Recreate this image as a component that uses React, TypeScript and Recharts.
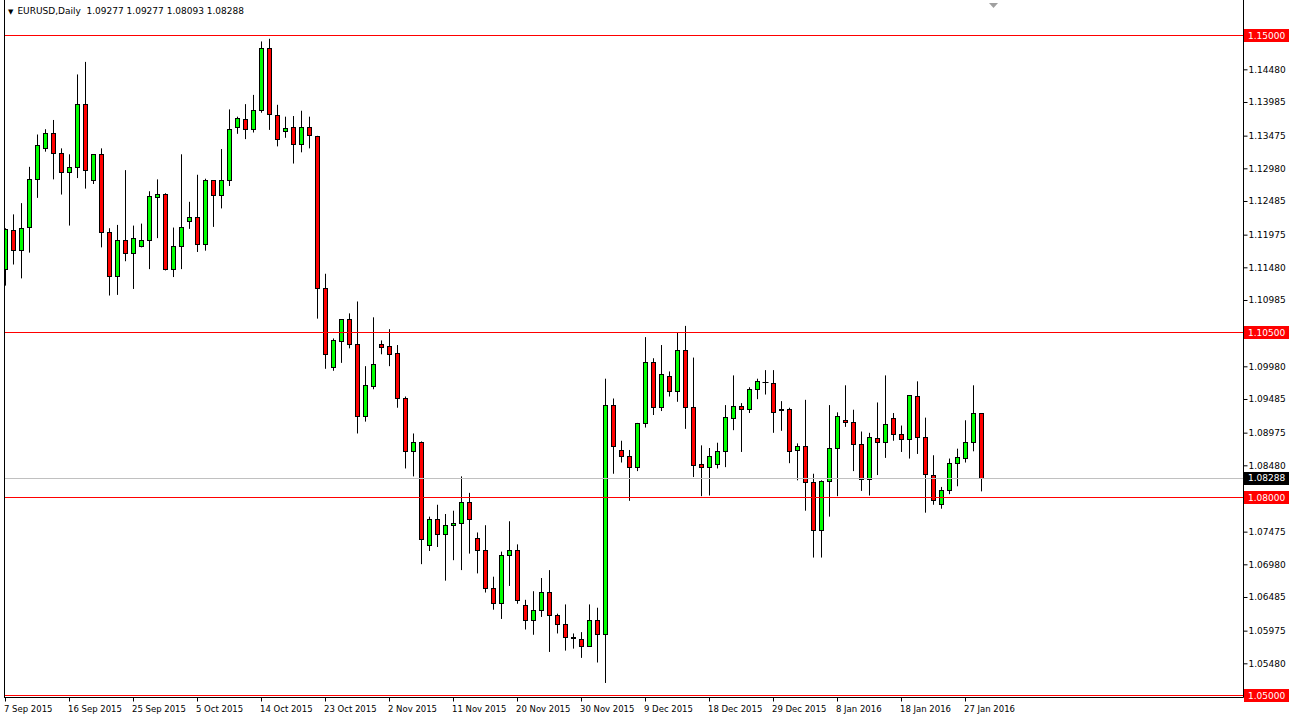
import React from 'react';
import { ComposedChart, Bar, XAxis, YAxis, ReferenceLine } from 'recharts';

const FONT = "Tahoma, 'DejaVu Sans', sans-serif";

// daily bars, 7 Sep 2015 .. 29 Jan 2016 (broker with Sunday bars)
const opens = [
  1.1145, 1.1205, 1.1174, 1.1209, 1.1282, 1.1329, 1.1351, 1.1321, 1.1292, 1.1300,
  1.1395, 1.1280, 1.1320, 1.1201, 1.1135, 1.1189, 1.1169, 1.1181, 1.1189, 1.1254,
  1.1259, 1.1146, 1.1180, 1.1218, 1.1225, 1.1183, 1.1280, 1.1258, 1.1280, 1.1360,
  1.1373, 1.1357, 1.1387, 1.1481, 1.1379, 1.1355, 1.1360, 1.1335, 1.1360, 1.1347,
  1.1116, 1.0997, 1.1037, 1.1069, 1.1032, 1.0923, 1.0968, 1.1032, 1.1029, 1.1018,
  1.0950, 1.0869, 1.0883, 1.0727, 1.0767, 1.0744, 1.0758, 1.0761, 1.0792, 1.0738,
  1.0720, 1.0662, 1.0639, 1.0712, 1.0720, 1.0636, 1.0613, 1.0629, 1.0656, 1.0621,
  1.0607, 1.0588, 1.0585, 1.0574, 1.0613, 1.0593, 1.0939, 1.0871, 1.0862, 1.0845,
  1.0912, 1.1005, 1.0936, 1.0983, 1.0960, 1.1023, 1.0936, 1.0850, 1.0846, 1.0850,
  1.0869, 1.0919, 1.0938, 1.0933, 1.0964, 1.0974, 1.0973, 1.0933, 1.0934, 1.0871,
  1.0878, 1.0822, 1.0750, 1.0824, 1.0874, 1.0917, 1.0913, 1.0881, 1.0827, 1.0890,
  1.0883, 1.0919, 1.0895, 1.0888, 1.0953, 1.0891, 1.0833, 1.0790, 1.0811, 1.0851,
  1.0859, 1.0883, 1.09277,
];

const highs = [
  1.1208, 1.1229, 1.1246, 1.1301, 1.1350, 1.1358, 1.1372, 1.1329, 1.1320, 1.1441,
  1.1460, 1.1320, 1.1329, 1.1208, 1.1213, 1.1296, 1.1212, 1.1215, 1.1264, 1.1282,
  1.1261, 1.1209, 1.1320, 1.1248, 1.1289, 1.1283, 1.1280, 1.1328, 1.1388, 1.1377,
  1.1396, 1.1410, 1.1491, 1.1495, 1.1395, 1.1377, 1.1378, 1.1386, 1.1377, 1.1348,
  1.1139, 1.1041, 1.1070, 1.1079, 1.1097, 1.0999, 1.1073, 1.1038, 1.1055, 1.1031,
  1.0953, 1.0897, 1.0885, 1.0771, 1.0789, 1.0775, 1.0780, 1.0832, 1.0807, 1.0747,
  1.0758, 1.0680, 1.0718, 1.0764, 1.0729, 1.0645, 1.0658, 1.0678, 1.0690, 1.0624,
  1.0638, 1.0594, 1.0596, 1.0638, 1.0633, 1.0980, 1.0950, 1.0886, 1.0872, 1.0913,
  1.1043, 1.1011, 1.1031, 1.0991, 1.1050, 1.1060, 1.1012, 1.0879, 1.0875, 1.0883,
  1.0940, 1.0985, 1.0943, 1.0967, 1.0980, 1.0993, 1.0993, 1.0946, 1.0936, 1.0882,
  1.0948, 1.0836, 1.0826, 1.0940, 1.0929, 1.0970, 1.0933, 1.0900, 1.0898, 1.0944,
  1.0985, 1.0928, 1.0909, 1.0955, 1.0976, 1.0921, 1.0864, 1.0816, 1.0859, 1.0874,
  1.0917, 1.0970, 1.09277,
];

const lows = [
  1.1121, 1.1153, 1.1132, 1.1171, 1.1254, 1.1324, 1.1282, 1.1259, 1.1212, 1.1284,
  1.1268, 1.1275, 1.1179, 1.1106, 1.1107, 1.1158, 1.1116, 1.1179, 1.1146, 1.1193,
  1.1144, 1.1134, 1.1146, 1.1207, 1.1172, 1.1174, 1.1210, 1.1238, 1.1272, 1.1351,
  1.1343, 1.1353, 1.1383, 1.1357, 1.1332, 1.1345, 1.1306, 1.1323, 1.1329, 1.1071,
  1.0995, 1.0992, 1.1004, 1.1026, 1.0897, 1.0915, 1.0964, 1.1017, 1.0999, 1.0936,
  1.0844, 1.0832, 1.0699, 1.0719, 1.0725, 1.0674, 1.0705, 1.0690, 1.0715, 1.0685,
  1.0656, 1.0630, 1.0616, 1.0666, 1.0639, 1.0600, 1.0592, 1.0619, 1.0566, 1.0594,
  1.0568, 1.0571, 1.0557, 1.0574, 1.0550, 1.0519, 1.0836, 1.0853, 1.0795, 1.0840,
  1.0906, 1.0925, 1.0931, 1.0953, 1.0945, 1.0904, 1.0831, 1.0802, 1.0803, 1.0844,
  1.0846, 1.0902, 1.0869, 1.0928, 1.0949, 1.0956, 1.0898, 1.0901, 1.0852, 1.0826,
  1.0780, 1.0709, 1.0709, 1.0771, 1.0802, 1.0907, 1.0840, 1.0810, 1.0803, 1.0834,
  1.0860, 1.0886, 1.0869, 1.0859, 1.0866, 1.0777, 1.0789, 1.0783, 1.0805, 1.0817,
  1.0853, 1.0870, 1.08093,
];

const closes = [
  1.1206, 1.1174, 1.1208, 1.1282, 1.1334, 1.1352, 1.1321, 1.1292, 1.1300, 1.1395,
  1.1295, 1.1320, 1.1201, 1.1135, 1.1189, 1.1169, 1.1192, 1.1189, 1.1256, 1.1259,
  1.1146, 1.1180, 1.1209, 1.1225, 1.1183, 1.1281, 1.1258, 1.1280, 1.1357, 1.1375,
  1.1357, 1.1387, 1.1480, 1.1381, 1.1343, 1.1359, 1.1335, 1.1360, 1.1348, 1.1116,
  1.1017, 1.1038, 1.1069, 1.1032, 1.0923, 1.0969, 1.1001, 1.1028, 1.1017, 1.0950,
  1.0870, 1.0883, 1.0736, 1.0767, 1.0744, 1.0758, 1.0761, 1.0792, 1.0767, 1.0720,
  1.0662, 1.0639, 1.0712, 1.0720, 1.0644, 1.0613, 1.0629, 1.0656, 1.0621, 1.0607,
  1.0588, 1.0587, 1.0574, 1.0613, 1.0593, 1.0939, 1.0877, 1.0862, 1.0845, 1.0912,
  1.1005, 1.0936, 1.0986, 1.0960, 1.1023, 1.0936, 1.0849, 1.0846, 1.0862, 1.0869,
  1.0921, 1.0938, 1.0933, 1.0964, 1.0976, 1.0975, 1.0929, 1.0932, 1.0869, 1.0878,
  1.0822, 1.0750, 1.0824, 1.0874, 1.0922, 1.0913, 1.0881, 1.0827, 1.0891, 1.0883,
  1.0911, 1.0896, 1.0888, 1.0955, 1.0891, 1.0835, 1.0796, 1.0810, 1.0851, 1.0860,
  1.0883, 1.0927, 1.08288,
];

// bar index of each time label and its text
const tickBars = [0, 8, 16, 24, 32, 40, 48, 56, 64, 72, 80, 88, 96, 104, 112, 120];
const tickDates = [
  '7 Sep 2015', '16 Sep 2015', '25 Sep 2015', '5 Oct 2015', '14 Oct 2015', '23 Oct 2015',
  '2 Nov 2015', '11 Nov 2015', '20 Nov 2015', '30 Nov 2015', '9 Dec 2015', '18 Dec 2015',
  '29 Dec 2015', '8 Jan 2016', '18 Jan 2016', '27 Jan 2016',
];

const priceTicks = [
  1.1448, 1.13985, 1.13475, 1.1298, 1.12485, 1.11975, 1.1148, 1.10985,
  1.0998, 1.09485, 1.08975, 1.0848, 1.07475, 1.0698, 1.06485, 1.05975, 1.0548,
];
const redLevels = [1.15, 1.105, 1.08, 1.05];
const bidPrice = 1.08288;
const headerText = 'EURUSD,Daily  1.09277 1.09277 1.08093 1.08288';

const Y_MIN = 1.04969697;
const Y_MAX = 1.15537879;

const data = opens.map((o, i) => ({
  i,
  open: o,
  high: highs[i],
  low: lows[i],
  close: closes[i],
  range: [lows[i], highs[i]],
}));

const Candle = (props: any) => {
  const { x, y, width, height, payload } = props;
  if (!payload) return null;
  const { open, close, high, low } = payload;
  const top = Math.min(y, y + height);
  const h = Math.abs(height);
  const py = (p: number) => top + ((high - p) / (high - low)) * h;
  const cx = Math.floor(x + width / 2) + 0.5;
  const snap = (v: number) => Math.floor(v) + 0.5;
  const yo = py(open);
  const yc = py(close);
  const bTop = snap(Math.min(yo, yc));
  const bBot = snap(Math.max(yo, yc));
  const up = close > open;
  return (
    <g>
      <line x1={cx} x2={cx} y1={py(high)} y2={py(low)} stroke="#000" strokeWidth={1} />
      {bBot - bTop < 1 ? (
        <line x1={cx - 3} x2={cx + 3} y1={bTop} y2={bTop} stroke="#000" strokeWidth={1} />
      ) : (
        <rect x={cx - 2} y={bTop} width={4} height={bBot - bTop} fill={up ? '#00ff00' : '#ff0000'} stroke="#000" strokeWidth={1} />
      )}
    </g>
  );
};

const DateTick = (props: any) => {
  const { x, y, payload } = props;
  const k = tickBars.indexOf(payload.value);
  return (
    <text x={x - 1.5} y={y} dy={8} textAnchor="start" fontSize={8.5} fontFamily={FONT} fill="#000">
      {tickDates[k]}
    </text>
  );
};

const PriceTick = (props: any) => {
  const { x, y, payload } = props;
  return (
    <text x={x} y={y} dy={3} textAnchor="start" fontSize={9} fontFamily={FONT} fill="#000">
      {Number(payload.value).toFixed(5)}
    </text>
  );
};

const PriceTag = (props: any) => {
  const { viewBox, value, bg } = props;
  if (!viewBox) return null;
  const left = viewBox.x + viewBox.width + 0.5;
  return (
    <g>
      <rect x={left} y={viewBox.y - 6.5} width={45} height={13} fill={bg} />
      <text x={left + 4} y={viewBox.y} dy={3} fontSize={9} fontFamily={FONT} fill="#fff">
        {Number(value).toFixed(5)}
      </text>
    </g>
  );
};

export default function App() {
  return (
    <div style={{ position: 'absolute', left: 0, top: 0, width: 1289, height: 722, background: '#fff' }}>
      <ComposedChart width={1289} height={722} data={data} margin={{ top: 0, right: 0, bottom: 0, left: 1.5 }}>
        <XAxis
          dataKey="i"
          type="category"
          height={24.5}
          padding={{ left: 0, right: 258 }}
          ticks={tickBars}
          interval={0}
          tick={<DateTick />}
          tickSize={4}
          axisLine={{ stroke: '#000' }}
          tickLine={{ stroke: '#000' }}
        />
        <YAxis
          orientation="right"
          type="number"
          width={45.5}
          domain={[Y_MIN, Y_MAX]}
          allowDataOverflow
          ticks={priceTicks}
          interval={0}
          tick={<PriceTick />}
          tickSize={4}
          tickMargin={1}
          axisLine={{ stroke: '#000' }}
          tickLine={{ stroke: '#000' }}
        />
        {redLevels.map((lv) => (
          <ReferenceLine key={lv} y={lv} stroke="#ff0000" strokeWidth={1} label={<PriceTag value={lv} bg="#ff0000" />} />
        ))}
        <ReferenceLine y={bidPrice} stroke="#c0c0c0" strokeWidth={1} label={<PriceTag value={bidPrice} bg="#000" />} />
        <Bar dataKey="range" barSize={8} shape={<Candle />} isAnimationActive={false} />
      </ComposedChart>
      <div style={{ position: 'absolute', left: 0, top: 0, width: 4, height: 698, background: '#fff' }} />
      <div style={{ position: 'absolute', left: 4, top: 0, width: 1, height: 698, background: '#000' }} />
      <div style={{ position: 'absolute', left: 8, top: 5, fontFamily: FONT, fontSize: 9, color: '#000', whiteSpace: 'pre', lineHeight: '12px' }}>
        <span style={{ fontSize: 7, marginRight: 4 }}>▼</span>
        {headerText}
      </div>
      <svg style={{ position: 'absolute', left: 0, top: 0 }} width={1289} height={20}>
        <polygon points="989,3 998,3 993.5,8" fill="#a0a0a0" />
      </svg>
    </div>
  );
}
